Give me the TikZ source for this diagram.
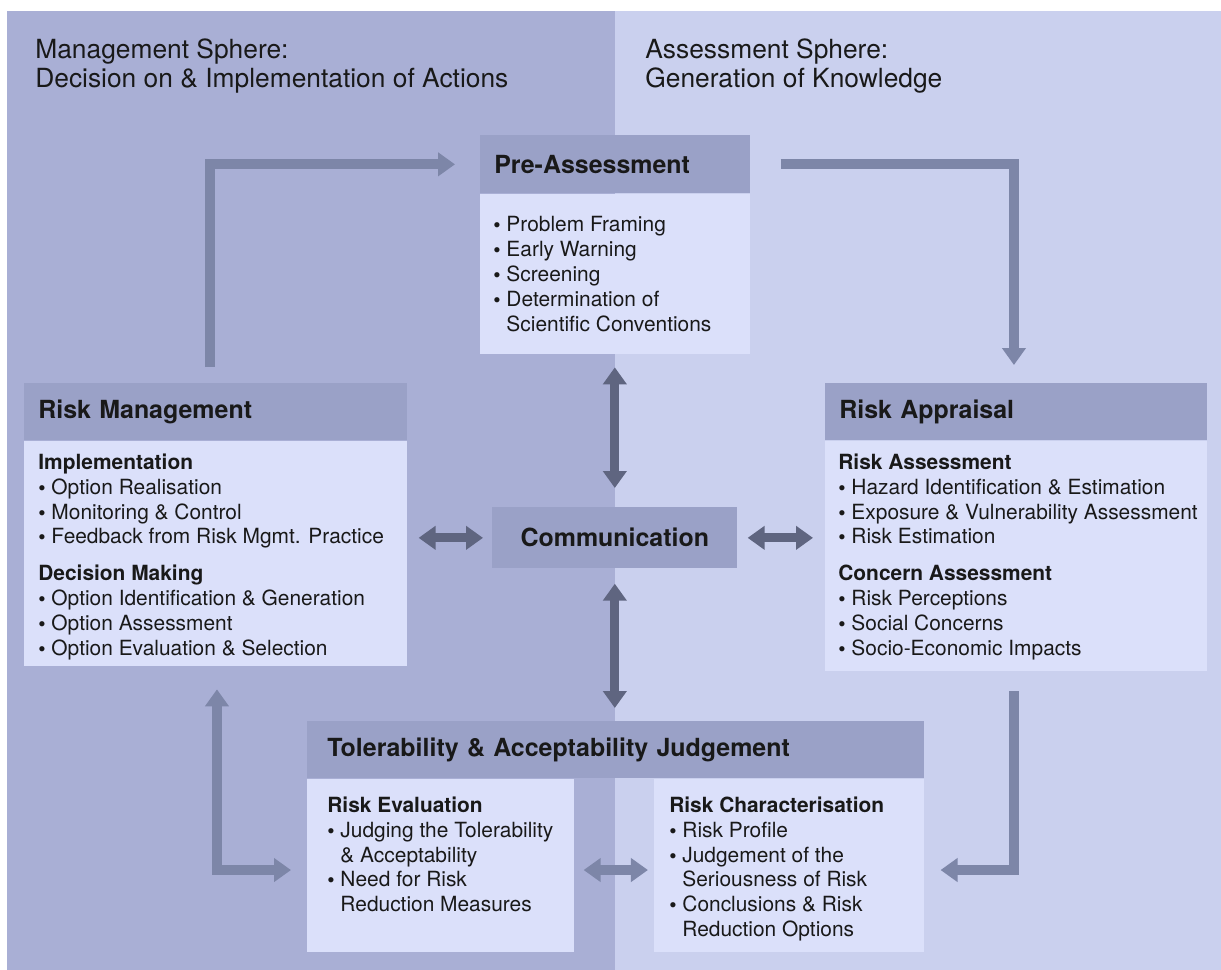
\documentclass[tikz,border=0pt]{standalone}
\usepackage{fontspec}
\setmainfont{TeX Gyre Heros}
\usetikzlibrary{arrows.meta}
\definecolor{mgmtbg}{HTML}{A9AFD5}
\definecolor{assbg}{HTML}{CAD0EE}
\definecolor{headcol}{HTML}{9AA1C7}
\definecolor{bodycol}{HTML}{DBE0FA}
\definecolor{flowcol}{HTML}{7D86A8}
\definecolor{commcol}{HTML}{5F6580}
\newcommand{\bul}{{\bfseries\textbullet}\ }
\newcommand{\nobul}{\phantom{{\bfseries\textbullet}\ }}

\begin{document}
\begin{tikzpicture}[x=0.02cm,y=-0.02cm,
    head/.style={fill=headcol,anchor=north west,inner xsep=0.28cm,inner ysep=0pt,align=left,
        minimum height=1.14cm,text=black!90,font=\fontsize{14.2}{17}\selectfont\bfseries},
    panel/.style={fill=bodycol,anchor=north west,inner sep=0pt},
    txt/.style={anchor=north west,inner sep=0pt,align=left,text=black!90,
        font=\fontsize{11.9}{14.2}\selectfont},
    sphere/.style={anchor=north west,inner sep=0pt,align=left,text=black!90,
        font=\fontsize{15}{16.8}\selectfont},
    flow/.style={draw=flowcol,line width=0.2cm},
    talk/.style={draw=commcol,line width=0.18cm,twoway},
    oneway/.style={-{Triangle[width=0.46cm,length=0.34cm]}},
    twoway/.style={{Triangle[width=0.46cm,length=0.34cm]}-{Triangle[width=0.46cm,length=0.34cm]}}]
\def\sep{6.8pt}% espacio entre grupos

\useasboundingbox (0,0) rectangle (1221,970);

%Fondo
\fill[mgmtbg] (7,11) rectangle (615,970);
\fill[assbg] (615,11) rectangle (1221,970);
\node[sphere] (mgmt) at (35,38) {Management Sphere:\\Decision on \& Implementation of Actions};
\node[sphere] (assess) at (645,38) {Assessment Sphere:\\Generation of Knowledge};

%Pre-Assessment
\node[head,text width=4.84cm,minimum height=1.16cm] (pre) at (480,135) {Pre-Assessment};
\node[panel,minimum width=5.4cm,minimum height=3.2cm] (prebody) at (pre.south west) {};
\node[txt] (pretxt) at ([xshift=0.26cm,yshift=-0.45cm]prebody.north west)
    {\bul Problem Framing\\ \bul Early Warning\\ \bul Screening\\ \bul Determination of\\ \nobul Scientific Conventions};

%Risk Management
\node[head,text width=7.1cm] (rm) at (24,383) {Risk Management};
\node[panel,minimum width=7.66cm,minimum height=4.5cm] (rmbody) at (rm.south west) {};
\node[txt] (rmtxt) at ([xshift=0.28cm,yshift=-0.25cm]rmbody.north west)
    {\textbf{Implementation}\\ \bul Option Realisation\\ \bul Monitoring \& Control\\
     \bul Feedback from Risk Mgmt. Practice\\[\sep] \textbf{Decision Making}\\
     \bul Option Identification \& Generation\\ \bul Option Assessment\\ \bul Option Evaluation \& Selection};

%Risk Appraisal
\node[head,text width=7.08cm] (ra) at (825,383) {Risk Appraisal};
\node[panel,minimum width=7.64cm,minimum height=4.6cm] (rabody) at (ra.south west) {};
\node[txt] (ratxt) at ([xshift=0.26cm,yshift=-0.25cm]rabody.north west)
    {\textbf{Risk Assessment}\\ \bul Hazard Identification \& Estimation\\
     \bul Exposure \& Vulnerability Assessment\\ \bul Risk Estimation\\[\sep] \textbf{Concern Assessment}\\
     \bul Risk Perceptions\\ \bul Social Concerns\\ \bul Socio-Economic Impacts};

%Communication
\node[head,align=center,text width=4.34cm,minimum height=1.22cm] (comm) at (492,507) {Communication};

%Tolerability & Acceptability Judgement
\node[head,inner xsep=0.4cm,text width=11.54cm] (tol) at (307,721) {Tolerability \& Acceptability Judgement};
\node[panel,minimum width=5.34cm,minimum height=3.46cm] (reval) at (tol.south west) {};
\node[panel,anchor=north east,minimum width=5.4cm,minimum height=3.46cm] (rchar) at (tol.south east) {};
\node[txt] (evaltxt) at ([xshift=0.4cm,yshift=-0.35cm]reval.north west)
    {\textbf{Risk Evaluation}\\ \bul Judging the Tolerability\\ \nobul\& Acceptability\\
     \bul Need for Risk\\ \nobul Reduction Measures};
\node[txt] (chartxt) at ([xshift=0.3cm,yshift=-0.35cm]rchar.north west)
    {\textbf{Risk Characterisation}\\ \bul Risk Profile\\ \bul Judgement of the\\ \nobul Seriousness of Risk\\
     \bul Conclusions \& Risk\\ \nobul Reduction Options};

%Flechas del ciclo
\draw[flow,oneway] ([xshift=3.72cm,yshift=0.32cm]rm.north west) |- ([xshift=-0.5cm]pre.west);
\draw[flow,oneway] ([xshift=0.6cm]pre.east) -| ([xshift=3.78cm,yshift=0.36cm]ra.north west);
\draw[flow,oneway] ([xshift=3.78cm,yshift=-0.4cm]rabody.south west) |- ([xshift=0.32cm,yshift=-0.09cm]rchar.east);
\draw[flow,twoway] ([xshift=3.86cm,yshift=-0.46cm]rmbody.south west) |- ([xshift=-0.32cm,yshift=-0.09cm]reval.west);
\draw[flow,twoway] ([xshift=0.18cm,yshift=-0.09cm]reval.east) -- ([xshift=-0.12cm,yshift=-0.09cm]rchar.west);

%Flechas de comunicacion
\draw[talk,shorten <=0.18cm,shorten >=0.22cm] (comm.west) -- (comm.west -| rmbody.east);
\draw[talk,shorten <=0.2cm,shorten >=0.24cm] (comm.east) -- (comm.east -| rabody.west);
\draw[talk,shorten <=0.38cm,shorten >=0.26cm] (comm.north) -- (comm.north |- prebody.south);
\draw[talk,shorten <=0.3cm,shorten >=0.26cm] (comm.south) -- (comm.south |- tol.north);
\end{tikzpicture}
\end{document}
